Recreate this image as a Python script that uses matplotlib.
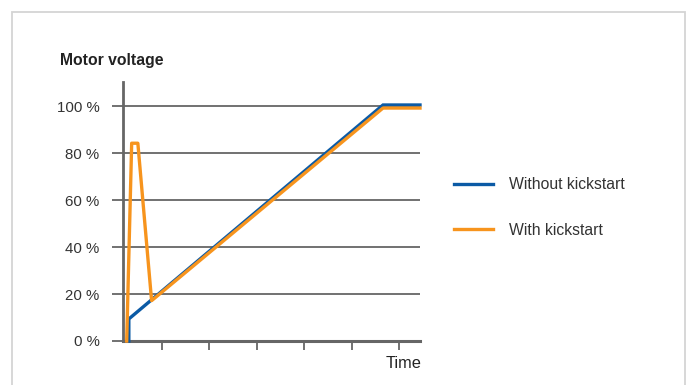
import matplotlib
matplotlib.use("Agg")
import matplotlib.pyplot as plt
from matplotlib.patches import Rectangle

# Data (time in arbitrary units, voltage in %)
time_without = [0.30, 0.30, 5.66, 6.44]
volt_without = [0.0, 9.4, 100.6, 100.6]

time_with = [0.255, 0.36, 0.49, 0.78, 5.66, 6.44]
volt_with = [0.0, 84.3, 84.3, 17.2, 99.3, 99.3]

ytick_vals = [0, 20, 40, 60, 80, 100]
ytick_labels = ["0 %", "20 %", "40 %", "60 %", "80 %", "100 %"]
xtick_vals = [1, 2, 3, 4, 5, 6]

series_names = ["Without kickstart", "With kickstart"]
blue = "#0b5aa5"
orange = "#f7941d"
grid_c = "#666666"
text_c = "#333333"

W, H = 687, 385
fig = plt.figure(figsize=(W / 100, H / 100), dpi=100)
fig.patch.set_facecolor("white")

fam = ["Liberation Sans", "DejaVu Sans"]

# Outer light frame
fig.patches.append(Rectangle((12 / W, -0.05), (685 - 12) / W, (H - 12) / H + 0.05,
                             transform=fig.transFigure, fill=False,
                             edgecolor="#d4d4d4", linewidth=1.3))

x0, x1 = 0.177, 6.44
ax = fig.add_axes([123 / W, (H - 341) / H, (420 - 123) / W, (341 - 82) / H])
ax.set_xlim(x0, x1)
ax.set_ylim(0, 110.4)

for s in ["top", "right"]:
    ax.spines[s].set_visible(False)
ax.spines["left"].set_color(grid_c)
ax.spines["left"].set_linewidth(2.0)
ax.spines["bottom"].set_color(grid_c)
ax.spines["bottom"].set_linewidth(2.2)

ax.set_yticks(ytick_vals)
ax.set_yticklabels(ytick_labels, family=fam, fontsize=10.8, color=text_c)
ax.set_xticks(xtick_vals)
ax.set_xticklabels([])
ax.tick_params(axis="y", direction="out", length=8, width=1.3, color=grid_c, pad=9)
ax.tick_params(axis="x", direction="out", length=6.5, width=1.3, color=grid_c)

for v in ytick_vals[1:]:
    ax.axhline(v, color=grid_c, linewidth=1.3, zorder=1)

ax.plot(time_without, volt_without, color=blue, linewidth=2.4, zorder=3,
        solid_joinstyle="miter", clip_on=False, label=series_names[0])
ax.plot(time_with, volt_with, color=orange, linewidth=2.4, zorder=4,
        solid_joinstyle="round", clip_on=False, label=series_names[1])

fig.text(60 / W, (H - 61) / H, "Motor voltage", family=fam, fontsize=11.3,
         fontweight="bold", color="#222222", va="center", ha="left")
fig.text(421 / W, (H - 364) / H, "Time", family=fam, fontsize=11.8,
         color="#222222", va="center", ha="right")

leg = fig.legend(loc="upper left", bbox_to_anchor=(440 / W, (H - 163) / H),
                 frameon=False, prop={"family": fam, "size": 11.3},
                 handlelength=2.45, handletextpad=1.05, labelspacing=1.95,
                 labelcolor=text_c)

fig.savefig("out.png", dpi=100)
